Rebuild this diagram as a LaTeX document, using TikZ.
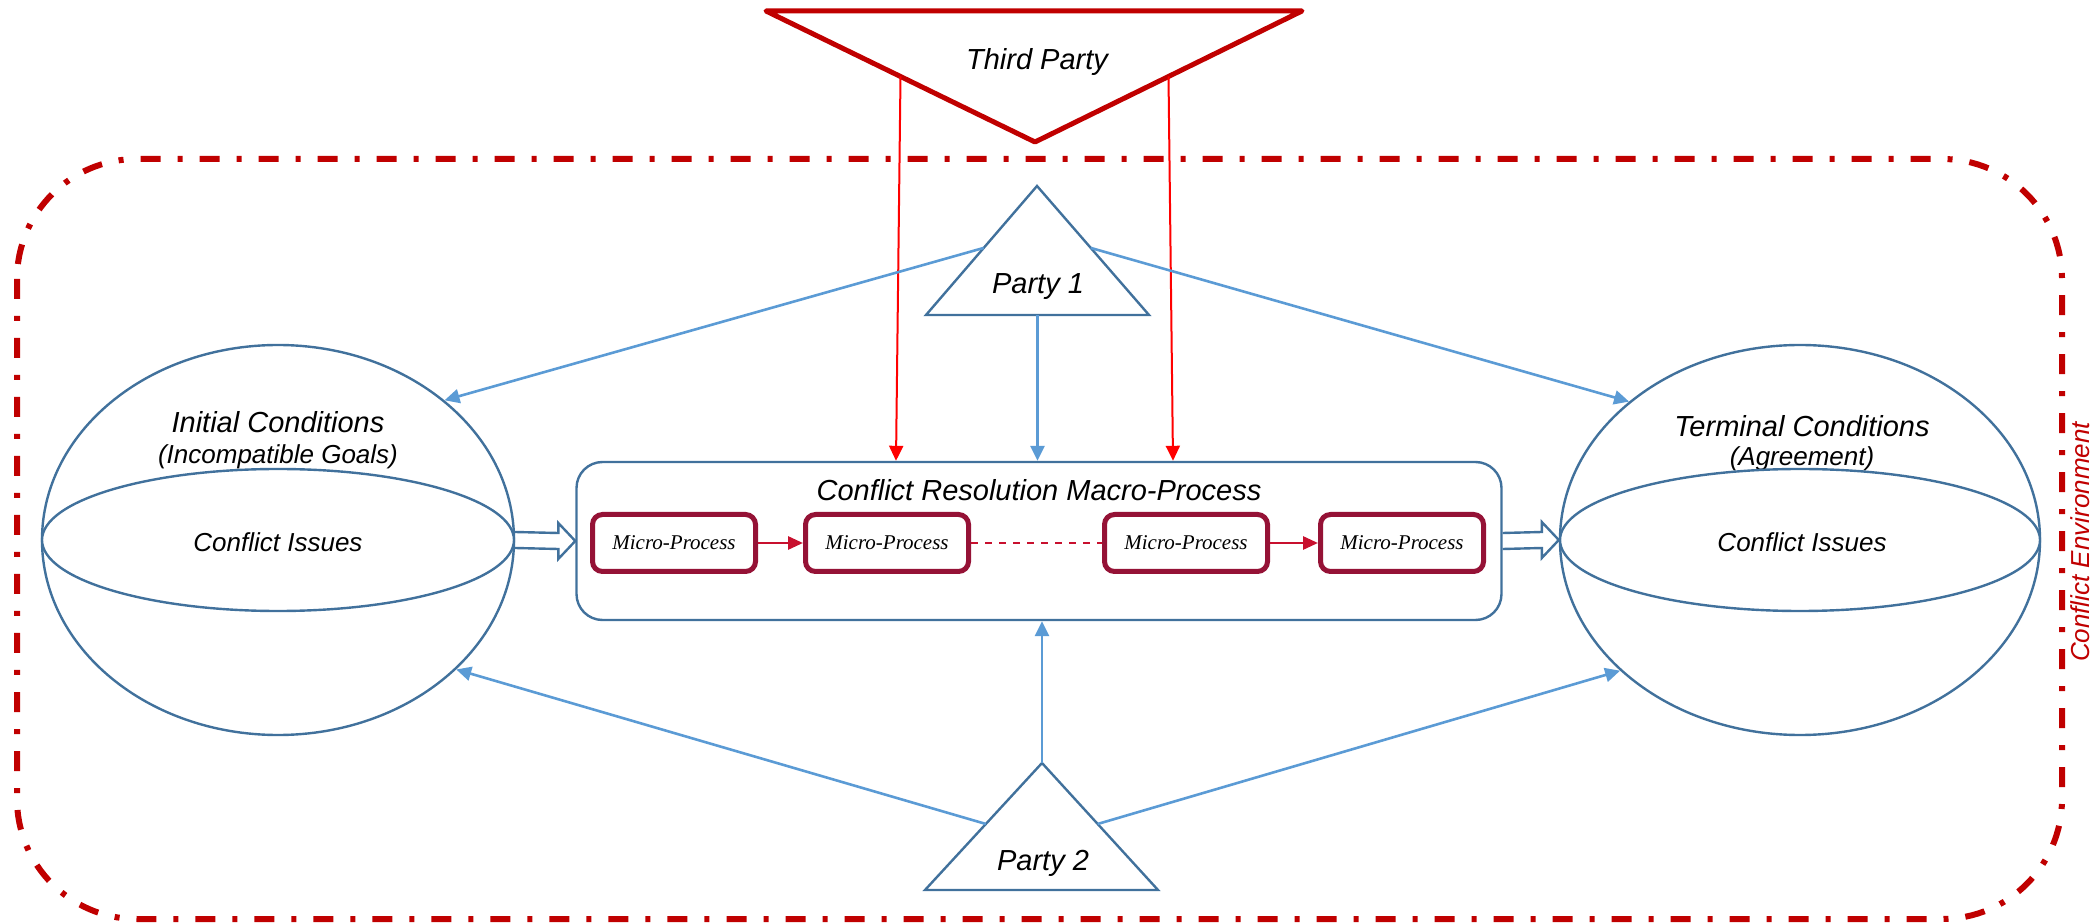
\documentclass[tikz,border=0pt]{standalone}
\usepackage{fontspec}
\setmainfont{Liberation Sans}
\newfontfamily\serifit{Liberation Serif}
\usetikzlibrary{arrows.meta,calc,shapes.geometric}
\definecolor{outblue}{HTML}{41719C}
\definecolor{arrblue}{HTML}{5B9BD5}
\definecolor{envred}{HTML}{C00000}
\definecolor{microred}{HTML}{951236}
\definecolor{microarr}{HTML}{C8102E}
\definecolor{tpred}{HTML}{FF0000}
\begin{document}
\begin{tikzpicture}[x=0.5pt,y=-0.5pt,
  outline/.style={draw=outblue,line width=1.2pt},
  sphere/.style={ellipse,outline,inner sep=0pt},
  bigtext/.style={font=\fontsize{14.5}{17}\selectfont\itshape,inner sep=1pt},
  smalltext/.style={font=\fontsize{13}{15}\selectfont\itshape,inner sep=1pt},
  microbox/.style={draw=microred,line width=2.5pt,rounded corners=5pt,fill=white,
     minimum width=81.5pt,minimum height=28.5pt,inner sep=0pt,
     font=\serifit\itshape\fontsize{10.5}{12}\selectfont},
  micarrow/.style={draw=microarr,line width=1.4pt,-{Triangle[length=7.5pt,width=6.5pt]}},
  micdash/.style={draw=microarr,line width=0.9pt,dash pattern=on 3.5pt off 3.5pt},
  bluearrow/.style={draw=arrblue,line width=1.3pt,-{Triangle[length=7.5pt,width=7pt]}},
  redarrow/.style={draw=tpred,line width=1pt,-{Triangle[length=7.5pt,width=7pt]}},
  hollow/.style={draw=outblue,line width=1.2pt,line join=miter},
  envline/.style={draw=envred,line width=3pt,rounded corners=60pt,
     dash pattern=on 10pt off 8.5pt on 2.5pt off 8.5pt}
]
\useasboundingbox (0,0) rectangle (2099,924);

% conflict environment
\draw[envline] (17,159) rectangle (2062,919);
\node[smalltext,text=envred,rotate=90] (envt) at (2080,542) {Conflict Environment};

% third party
\coordinate (tpl) at (766,11);
\coordinate (tpr) at (1302,11);
\coordinate (tpb) at (1035,142);
\draw[draw=envred,line width=2.5pt,line join=round] (tpl) -- (tpr) -- (tpb) -- cycle;
\node[bigtext] (tpt) at (1037,62) {Third Party};

% party 1
\coordinate (p1a) at (1037,186);
\coordinate (p1l) at (926,315);
\coordinate (p1r) at (1149,315);
\draw[outline,line join=miter] (p1a) -- (p1l) -- (p1r) -- cycle;
\node[bigtext] (p1t) at (1038,287) {Party 1};

% party 2
\coordinate (p2a) at (1042,763);
\coordinate (p2l) at (925,890);
\coordinate (p2r) at (1158,890);
\draw[outline,line join=miter] (p2a) -- (p2l) -- (p2r) -- cycle;
\node[bigtext] (p2t) at (1043,863) {Party 2};

% initial conditions sphere
\node[sphere,minimum width=236pt,minimum height=195pt] (init) at (278,540) {};
\node[bigtext] (initt) at (278,422) {Initial Conditions};
\node[smalltext] (initg) at (278,457) {(Incompatible Goals)};
\node[sphere,fill=white,minimum width=236pt,minimum height=71pt] (initc) at (278,540) {};
\node[smalltext] (initi) at (278,542) {Conflict Issues};

% terminal conditions sphere
\node[sphere,minimum width=240pt,minimum height=195pt] (term) at (1800,540) {};
\node[bigtext] (termt) at (1802,426) {Terminal Conditions};
\node[smalltext] (termg) at (1802,459) {(Agreement)};
\node[sphere,fill=white,minimum width=240pt,minimum height=71pt] (termc) at (1800,540) {};
\node[smalltext] (termi) at (1802,542) {Conflict Issues};

% macro process
\node[outline,rounded corners=13pt,minimum width=462.5pt,minimum height=79pt,inner sep=0pt] (macro) at (1039,541) {};
\node[bigtext] (mtitle) at (1039,490) {Conflict Resolution Macro-Process};

\node[microbox] (m1) at (674,543) {Micro-Process};
\node[microbox] (m2) at (887,543) {Micro-Process};
\node[microbox] (m3) at (1186,543) {Micro-Process};
\node[microbox] (m4) at (1402,543) {Micro-Process};
\draw[micarrow] (m1) -- (m2);
\draw[micdash] (m2) -- (m3);
\draw[micarrow] (m3) -- (m4);

% hollow arrows
\draw[hollow] ($(init.east)+(0,-8)$) -- ($(macro.west)+(-17,-8)$) -- ($(macro.west)+(-17,-18)$)
  -- (macro.west) -- ($(macro.west)+(-17,18)$) -- ($(macro.west)+(-17,8)$) -- ($(init.east)+(0,8)$);
\draw[hollow] ($(macro.east)+(0,-8)$) -- ($(term.west)+(-17,-8)$) -- ($(term.west)+(-17,-18)$)
  -- (term.west) -- ($(term.west)+(-17,18)$) -- ($(term.west)+(-17,8)$) -- ($(macro.east)+(0,8)$);

% third party arrows
\coordinate (r1s) at ($(tpl)!0.5!(tpb)$);
\coordinate (r2s) at ($(tpr)!0.5!(tpb)$);
\coordinate (r1e) at ($(macro.north)+(-143,0)$);
\coordinate (r2e) at ($(macro.north)+(134,0)$);
\draw[redarrow] (r1s) -- (r1e);
\draw[redarrow] (r2s) -- (r2e);

% party arrows
\coordinate (p1b) at ($(p1l)!0.5!(p1r)$);
\draw[bluearrow] (p1b) -- (p1b |- macro.north);
\draw[bluearrow] (p2a) -- (p2a |- macro.south);
\coordinate (p1lm) at ($(p1a)!0.48!(p1l)$);
\coordinate (p1rm) at ($(p1a)!0.48!(p1r)$);
\coordinate (p2lm) at ($(p2a)!0.48!(p2l)$);
\coordinate (p2rm) at ($(p2a)!0.48!(p2r)$);
\draw[bluearrow] (p1lm) -- (init.40);
\draw[bluearrow] (p1rm) -- (term.141);
\draw[bluearrow] (p2lm) -- (init.-36);
\draw[bluearrow] (p2rm) -- (term.216);
\end{tikzpicture}
\end{document}
